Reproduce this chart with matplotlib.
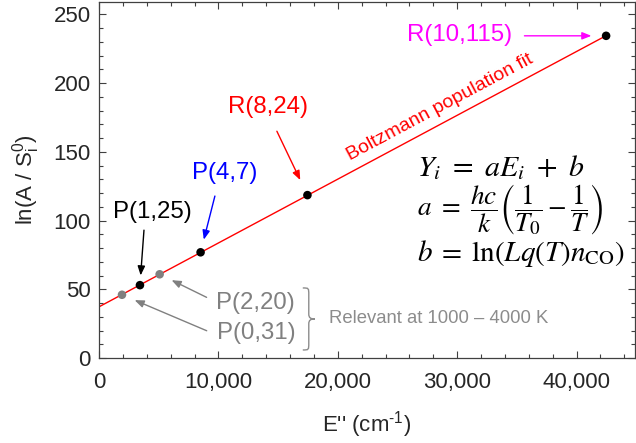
import numpy as np
import matplotlib
matplotlib.use("Agg")
import matplotlib.pyplot as plt
from matplotlib.path import Path
from matplotlib.patches import PathPatch
from matplotlib.transforms import Affine2D

plt.rcParams['font.family'] = ['Liberation Sans', 'DejaVu Sans']
plt.rcParams['mathtext.fontset'] = 'custom'
plt.rcParams['mathtext.rm'] = 'Liberation Sans'
plt.rcParams['mathtext.it'] = 'Liberation Sans:italic'
plt.rcParams['mathtext.bf'] = 'Liberation Sans:bold'

# ---- data ----
labels = ['P(0,31)', 'P(1,25)', 'P(2,20)', 'P(4,7)', 'R(8,24)', 'R(10,115)']
energy = [1925, 3430, 5080, 8510, 17460, 42480]
ln_ratio = [46.0, 53.0, 60.9, 76.9, 118.5, 234.4]
point_colors = ['#808080', 'black', '#808080', 'black', 'black', 'black']
label_colors = ['#808080', 'black', '#808080', 'blue', 'red', 'magenta']
xticks = [0, 10000, 20000, 30000, 40000]
xtick_labels = ['0', '10,000', '20,000', '30,000', '40,000']
yticks = [0, 50, 100, 150, 200, 250]

fit_slope, fit_intercept = np.polyfit(energy, ln_ratio, 1)

W, H = 636, 443
fig = plt.figure(figsize=(W / 100, H / 100), dpi=100)
ax = fig.add_axes([99 / W, (H - 358) / H, (635 - 99) / W, (358 - 2) / H])
ax.set_xlim(0, 44900)
ax.set_ylim(0, 259)

# fit line
xf = np.array([0, max(energy)])
ax.plot(xf, fit_intercept + fit_slope * xf, color='red', lw=1.0, zorder=2)

# points
ax.scatter(energy, ln_ratio, c=point_colors, s=38, zorder=3, linewidths=0)

# ticks
ax.set_xticks(xticks)
ax.set_xticklabels(xtick_labels)
ax.set_yticks(yticks)
ax.set_xticks(np.arange(0, 44901, 2000), minor=True)
ax.set_yticks(np.arange(0, 259, 10), minor=True)
ax.tick_params(which='both', direction='in', top=True, right=True, colors='#404040',
               labelcolor='#262626', labelsize=16)
ax.tick_params(which='major', length=5, width=0.8)
ax.tick_params(which='minor', length=3, width=0.8)
ax.tick_params(axis='x', pad=10)
ax.tick_params(axis='y', pad=6)
for s in ax.spines.values():
    s.set_color('#404040')
    s.set_linewidth(0.9)

ax.set_xlabel("E'' (cm$^{\\mathrm{\u20101}}$)", fontsize=16, color='#262626', labelpad=12)
ax.set_ylabel("ln(A / S$_{\\mathrm{i}}^{\\mathrm{0}}$)", fontsize=16, color='#262626', labelpad=8)

# annotation layout: label centre (data), arrow tail offset (pt), arrow tip shrink (pt)
label_pos = [(13138, 18.2), (4435, 106.2), (13138, 40.0), (10544, 134.6), (14142, 182.6), (30209, 235.0)]
tail_off = [(61, -25.9), (2.9, 39.6), (33.8, -16.6), (10.3, 40.5), (-22, 46), (-58.8, 0)]
tip_shrink = [9.9, 7.0, 9.6, 9.4, 12.0, 10.6]
arrow_colors = ['#808080', 'black', '#808080', 'blue', 'red', 'magenta']

for lab, (lx, ly), c, ac, (dx, dy), sh, e, v in zip(labels, label_pos, label_colors, arrow_colors,
                                                     tail_off, tip_shrink, energy, ln_ratio):
    ax.text(lx, ly, lab, color=c, fontsize=17.3, ha='center', va='center', zorder=4)
    ax.annotate('', xy=(e, v), xytext=(dx, dy), textcoords='offset points',
                arrowprops=dict(arrowstyle='-|>,head_length=0.55,head_width=0.22',
                                color=ac, lw=1.0, shrinkA=0, shrinkB=sh), zorder=4)

# brace
fig.canvas.draw()
cx, cy = ax.transData.transform((17573, 28.4))
verts = [(-6, 31), (0, 31), (0, 31), (0, 24), (0, 5), (0, 1), (2, 0), (6, 0),
         (2, 0), (0, -1), (0, -5), (0, -24), (0, -31), (0, -31), (-6, -31)]
codes = [Path.MOVETO, Path.CURVE4, Path.CURVE4, Path.CURVE4, Path.LINETO,
         Path.CURVE4, Path.CURVE4, Path.CURVE4, Path.CURVE4, Path.CURVE4, Path.CURVE4,
         Path.LINETO, Path.CURVE4, Path.CURVE4, Path.CURVE4]
brace = PathPatch(Path(verts, codes), transform=Affine2D().translate(cx, cy),
                  facecolor='none', edgecolor='#8c8c8c', lw=1.0, clip_on=False)
fig.add_artist(brace)
ax.text(19247, 29.1, 'Relevant at 1000 – 4000 K', color='#8c8c8c', fontsize=13.3,
        ha='left', va='center')

# Boltzmann fit label along the line
p1 = ax.transData.transform((0, fit_intercept))
p2 = ax.transData.transform((40000, fit_intercept + fit_slope * 40000))
ang = np.degrees(np.arctan2(p2[1] - p1[1], p2[0] - p1[0]))
ax.text(28536, 182.3, 'Boltzmann population fit', color='red', fontsize=14, rotation=ang,
        rotation_mode='anchor', ha='center', va='center')

# equations
eq_x = 26611
ax.text(eq_x, 138.2, r'$Y_i\ =\ aE_i\ +\ b$', fontsize=21.5, math_fontfamily='stix',
        ha='left', va='center', color='black')
ax.text(eq_x, 107.7, r'$a\ =\ \dfrac{hc}{k}\left(\dfrac{1}{T_0}-\dfrac{1}{T}\right)$', fontsize=19.5,
        math_fontfamily='stix', ha='left', va='center', color='black')
ax.text(eq_x, 75.7, r'$b\;=\;\ln(Lq(T)n_{\mathrm{CO}})$', fontsize=21, math_fontfamily='stix',
        ha='left', va='center', color='black')

fig.savefig('out.png', dpi=100)
